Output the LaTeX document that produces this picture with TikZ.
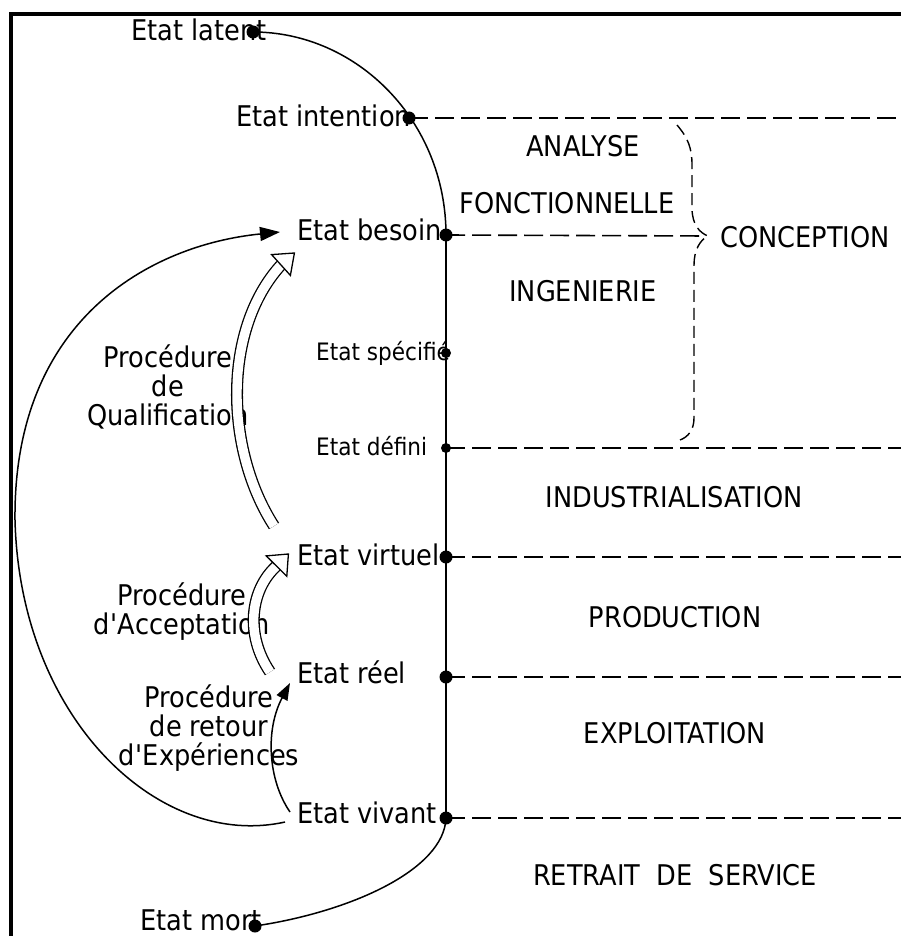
\documentclass[tikz,border=0pt]{standalone}
\usepackage{fontspec}
\setmainfont{DejaVu Sans}[FakeStretch=0.9]
\usetikzlibrary{arrows.meta}
\tikzset{%
  etat/.style = {font=\fontsize{28.5}{29}\selectfont, inner sep=0pt, anchor=base west},
  etatpetit/.style = {etat, font=\fontsize{24}{24}\selectfont},
  phase/.style = {font=\fontsize{28.5}{29}\selectfont, inner sep=0pt, anchor=base},
  proc/.style = {phase, align=center},
  jalon/.style = {circle, fill=black, inner sep=0pt, minimum size=13pt},
  jalonpetit/.style = {jalon, minimum size=10pt},
  vie/.style = {line width=1.5pt},
  limite/.style = {line width=1.6pt, dash pattern=on 19pt off 7pt},
  accolade/.style = {line width=1.4pt, dash pattern=on 12pt off 6pt},
  fleche/.style = {line width=1.5pt, -{Triangle[length=20pt, width=14pt]}},
  dbl/.style = {double, double distance=9.4pt, line width=1.3pt},
  tete/.style = {line width=1.3pt, fill=white, line join=miter},
  cadre/.style = {line width=3.4pt, line join=miter}
  }

\begin{document}
\begin{tikzpicture}[x=1pt, y=-1pt]
  \useasboundingbox (0,0) rectangle (901,936);
  \draw[cadre] (11,936) -- (11,14.2) -- (901,14.2);
  \coordinate (bord) at (901,0);

  % etats
  \node[etat] (latent) at (131,41) {Etat latent};
  \node[etat] (intention) at (236,127) {Etat intention};
  \node[etat] (besoin) at (297,240) {Etat besoin};
  \node[etatpetit] (specifie) at (316,360) {Etat spécifié};
  \node[etatpetit] (defini) at (316,455) {Etat défini};
  \node[etat] (virtuel) at (297,565) {Etat virtuel};
  \node[etat] (reel) at (297,683) {Etat réel};
  \node[etat] (vivant) at (297,823) {Etat vivant};
  \node[etat] (mort) at (140,930) {Etat mort};

  % phases
  \node[phase] (analyse) at (583,157) {ANALYSE};
  \node[phase] (fonct) at (567,213) {FONCTIONNELLE};
  \node[phase] (conception) at (805,247) {CONCEPTION};
  \node[phase] (ingenierie) at (583,301) {INGENIERIE};
  \node[phase] (indus) at (674,507) {INDUSTRIALISATION};
  \node[phase] (production) at (675,627) {PRODUCTION};
  \node[phase] (exploitation) at (675,743) {EXPLOITATION};
  \node[phase] (retrait) at (675,885) {RETRAIT~~DE~~SERVICE};

  % procedures (base = derniere ligne)
  \node[proc] (qualif) at (168,425) {Procédure\\de\\Qualification};
  \node[proc] (accept) at (182,634) {Procédure\\d\textquotesingle Acceptation};
  \node[proc] (rex) at (209,765) {Procédure\\de retour\\d\textquotesingle Expériences};

  % cycle de vie
  \draw[vie] (253,32) .. controls (357,32) and (446,121) .. (446,235);
  \draw[vie] (446,235) -- (446,818);
  \draw[vie] (446,818) .. controls (444,870) and (350,912) .. (255,926);

  \node[jalon] (j-latent) at (253,32) {};
  \node[jalon] (j-intention) at (409,118) {};
  \node[jalon] (j-besoin) at (446,235) {};
  \node[jalonpetit] (j-specifie) at (446,353) {};
  \node[jalonpetit] (j-defini) at (446,448) {};
  \node[jalon] (j-virtuel) at (446,557) {};
  \node[jalon] (j-reel) at (446,677) {};
  \node[jalon] (j-vivant) at (446,818) {};
  \node[jalon] (j-mort) at (255,926) {};

  % limites des phases
  \foreach \j in {intention, defini, virtuel, reel, vivant}
    \draw[limite] (j-\j.center) -- (j-\j.center -| bord);
  \coordinate (pointe) at (708,236);
  \draw[limite, shorten >=8pt] (j-besoin.center) -- (pointe);

  % accolade
  \draw[accolade] (677,125) .. controls (688,138) and (692,148) .. (692,165)
    -- (692,208) .. controls (692,225) and (700,233) .. (pointe)
    .. controls (700,240) and (694,250) .. (694,265)
    -- (694,418) .. controls (694,430) and (688,437) .. (680,440);

  % fleches doubles
  \coordinate (q0) at (274,526);
  \coordinate (q1) at (281,265);
  \draw[dbl] (q0) .. controls (225,450) and (222,330) .. (q1);
  \draw[tete] (271.6,254.6) -- (294.4,253) -- (290.4,275.4) -- cycle;

  \coordinate (a0) at (270,672);
  \coordinate (a1) at (276.5,566);
  \draw[dbl] (a0) .. controls (245,635) and (250,590) .. (a1);
  \draw[tete] (266.2,555.9) -- (288.4,554) -- (286.8,576.2) -- cycle;

  % retour
  \coordinate (r0) at (290,812);
  \coordinate (r1) at (290,683);
  \draw[fleche, -{Triangle[length=17pt, width=12pt]}] (r0) .. controls (268,780) and (265,730) .. (r1);

  \coordinate (b0) at (285,822);
  \coordinate (b1) at (280,232);
  \draw[fleche] (b0) .. controls (160,850) and (20,720) .. (15,520)
    .. controls (13,320) and (150,245) .. (b1);
\end{tikzpicture}
\end{document}
